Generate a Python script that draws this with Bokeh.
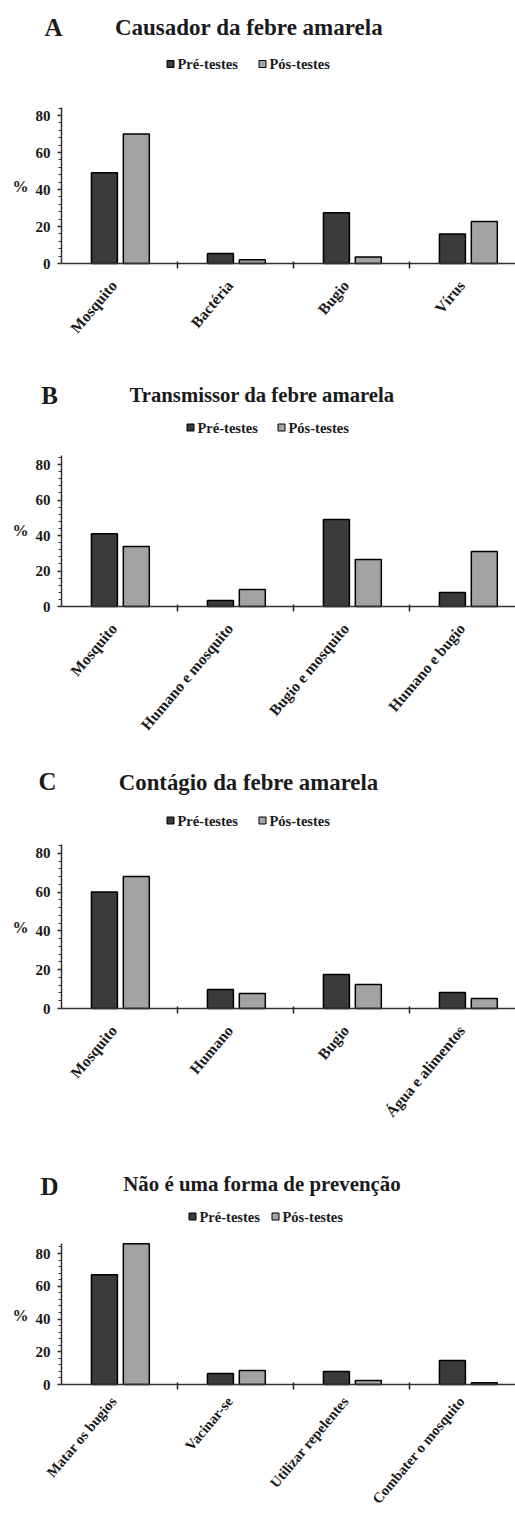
import math
from bokeh.plotting import figure
from bokeh.layouts import column
from bokeh.models import FixedTicker, Label
from bokeh.embed import file_html
from bokeh.resources import INLINE

series_names = ["Pré-testes", "Pós-testes"]

a_letter = "A"
a_title = "Causador da febre amarela"
a_cats = ["Mosquito", "Bactéria", "Bugio", "Vírus"]
a_pre = [49, 5.4, 27.5, 16]
a_pos = [70, 2, 3.5, 22.7]

b_letter = "B"
b_title = "Transmissor da febre amarela"
b_cats = ["Mosquito", "Humano e mosquito", "Bugio e mosquito", "Humano e bugio"]
b_pre = [41, 3.4, 49, 7.9]
b_pos = [33.8, 9.6, 26.5, 31]

c_letter = "C"
c_title = "Contágio da febre amarela"
c_cats = ["Mosquito", "Humano", "Bugio", "Água e alimentos"]
c_pre = [60, 9.8, 17.5, 8.2]
c_pos = [68, 7.7, 12.4, 5.2]

d_letter = "D"
d_title = "Não é uma forma de prevenção"
d_cats = ["Matar os bugios", "Vacinar-se", "Utilizar repelentes", "Combater o mosquito"]
d_pre = [67, 6.7, 7.9, 14.7]
d_pos = [86, 8.5, 2.4, 1]

y_ticks = [0, 20, 40, 60, 80]
y_minor = list(range(0, 88, 4))

FONT = "Liberation Serif"
PRE_COLOR = "#3b3b3b"
POS_COLOR = "#a3a3a3"
TXT = "#1a1a1a"

WIDTH = 515
AXIS_X = 61      # pixel column of the y axis
CAT_PX = 116     # pixels per category


def panel(letter, title, cats, pre, pos, height, zero_px, scale, axis_top,
          letter_xy, title_xy, title_size, legend_y, leg_x1, leg_x2, pct_y,
          xlab_size="15.5px", xlab_standoff=14):
    ymin = -(height - zero_px) / scale
    ymax = zero_px / scale
    x0 = -AXIS_X / CAT_PX
    x1 = (WIDTH - AXIS_X) / CAT_PX
    p = figure(width=WIDTH, height=height, x_range=(x0, x1), y_range=(ymin, ymax),
               output_backend="svg", toolbar_location=None,
               min_border_left=0, min_border_right=0,
               min_border_top=0, min_border_bottom=0)
    p.xgrid.visible = False
    p.ygrid.visible = False
    p.outline_line_color = None
    p.background_fill_color = "white"
    p.border_fill_color = "white"

    def dx(px):
        return (px - AXIS_X) / CAT_PX

    def dy(py):
        return (zero_px - py) / scale

    n = len(cats)
    xs_pre = [i + 0.37 for i in range(n)]
    xs_pos = [i + 0.645 for i in range(n)]
    p.vbar(x=xs_pre, top=pre, width=0.224, bottom=0, fill_color=PRE_COLOR,
           line_color="black", line_width=1.5)
    p.vbar(x=xs_pos, top=pos, width=0.224, bottom=0, fill_color=POS_COLOR,
           line_color="black", line_width=1.5)

    # x axis, fixed at y = 0
    xa = p.xaxis[0]
    xa.fixed_location = 0
    xa.bounds = (0, 10)
    label_pos = [i + 0.45 for i in range(n)]
    xa.ticker = FixedTicker(ticks=label_pos, minor_ticks=[1, 2, 3])
    xa.major_label_overrides = {lp: c for lp, c in zip(label_pos, cats)}
    xa.major_tick_in = 0
    xa.major_tick_out = 0
    xa.minor_tick_in = 2
    xa.minor_tick_out = 5
    xa.minor_tick_line_color = "#222222"
    xa.minor_tick_line_width = 1.5
    xa.axis_line_color = "#333333"
    xa.axis_line_width = 1.5
    xa.major_label_orientation = math.radians(50)
    xa.major_label_standoff = xlab_standoff
    xa.major_label_text_font = FONT
    xa.major_label_text_font_style = "bold"
    xa.major_label_text_font_size = xlab_size
    xa.major_label_text_color = TXT

    # y axis, fixed at x = 0
    ya = p.yaxis[0]
    ya.fixed_location = 0
    ya.bounds = (0, axis_top)
    ya.ticker = FixedTicker(ticks=y_ticks, minor_ticks=y_minor)
    ya.major_tick_in = 0
    ya.major_tick_out = 4
    ya.minor_tick_in = 0
    ya.minor_tick_out = 3
    ya.major_tick_line_color = "#222222"
    ya.major_tick_line_width = 1.5
    ya.minor_tick_line_color = "#333333"
    ya.minor_tick_line_width = 1
    ya.axis_line_color = "#333333"
    ya.axis_line_width = 1.5
    ya.major_label_standoff = 7
    ya.major_label_text_font = FONT
    ya.major_label_text_font_style = "bold"
    ya.major_label_text_font_size = "15px"
    ya.major_label_text_color = TXT

    def lab(px, py, text, size, align="center"):
        p.add_layout(Label(x=dx(px), y=dy(py), text=text, text_font=FONT,
                           text_font_style="bold", text_font_size=size,
                           text_align=align, text_baseline="middle", text_color=TXT))

    lab(letter_xy[0], letter_xy[1], letter, "25px")
    lab(title_xy[0], title_xy[1], title, title_size)
    lab(20, pct_y, "%", "16px")

    # legend
    for lx, name, col in ((leg_x1, series_names[0], PRE_COLOR), (leg_x2, series_names[1], POS_COLOR)):
        p.add_layout(Label(x=dx(lx), y=dy(legend_y), text="\u2003", text_font_size="7px",
                           text_align="center", text_baseline="middle",
                           background_fill_color=col, border_line_color="black",
                           border_line_width=1, padding=0))
        lab(lx + 7, legend_y, name, "14.5px", align="left")
    return p


pa = panel(a_letter, a_title, a_cats, a_pre, a_pos, 375, 263, 1.85, 84.3,
           (53, 27), (248.5, 27), "23px", 63.5, 170, 262, 186)
pb = panel(b_letter, b_title, b_cats, b_pre, b_pos, 380, 606 - 375, 1.775, 85,
           (49, 395 - 375), (261.5, 394 - 375), "20.7px", 427 - 375, 190, 281, 530 - 375)
pc = panel(c_letter, c_title, c_cats, c_pre, c_pos, 380, 1008 - 755, 1.94, 84.5,
           (47, 781 - 755), (248, 782 - 755), "22.8px", 820 - 755, 170, 262, 927 - 755)
pd = panel(d_letter, d_title, d_cats, d_pre, d_pos, 381, 1384 - 1135, 1.6375, 86,
           (49, 1186 - 1135), (261.5, 1183 - 1135), "20.9px", 1216 - 1135, 192, 275, 1315 - 1135,
           xlab_size="14.5px", xlab_standoff=9)

layout = column(pa, pb, pc, pd, spacing=0)
open("out.html", "w").write(file_html(layout, INLINE))
